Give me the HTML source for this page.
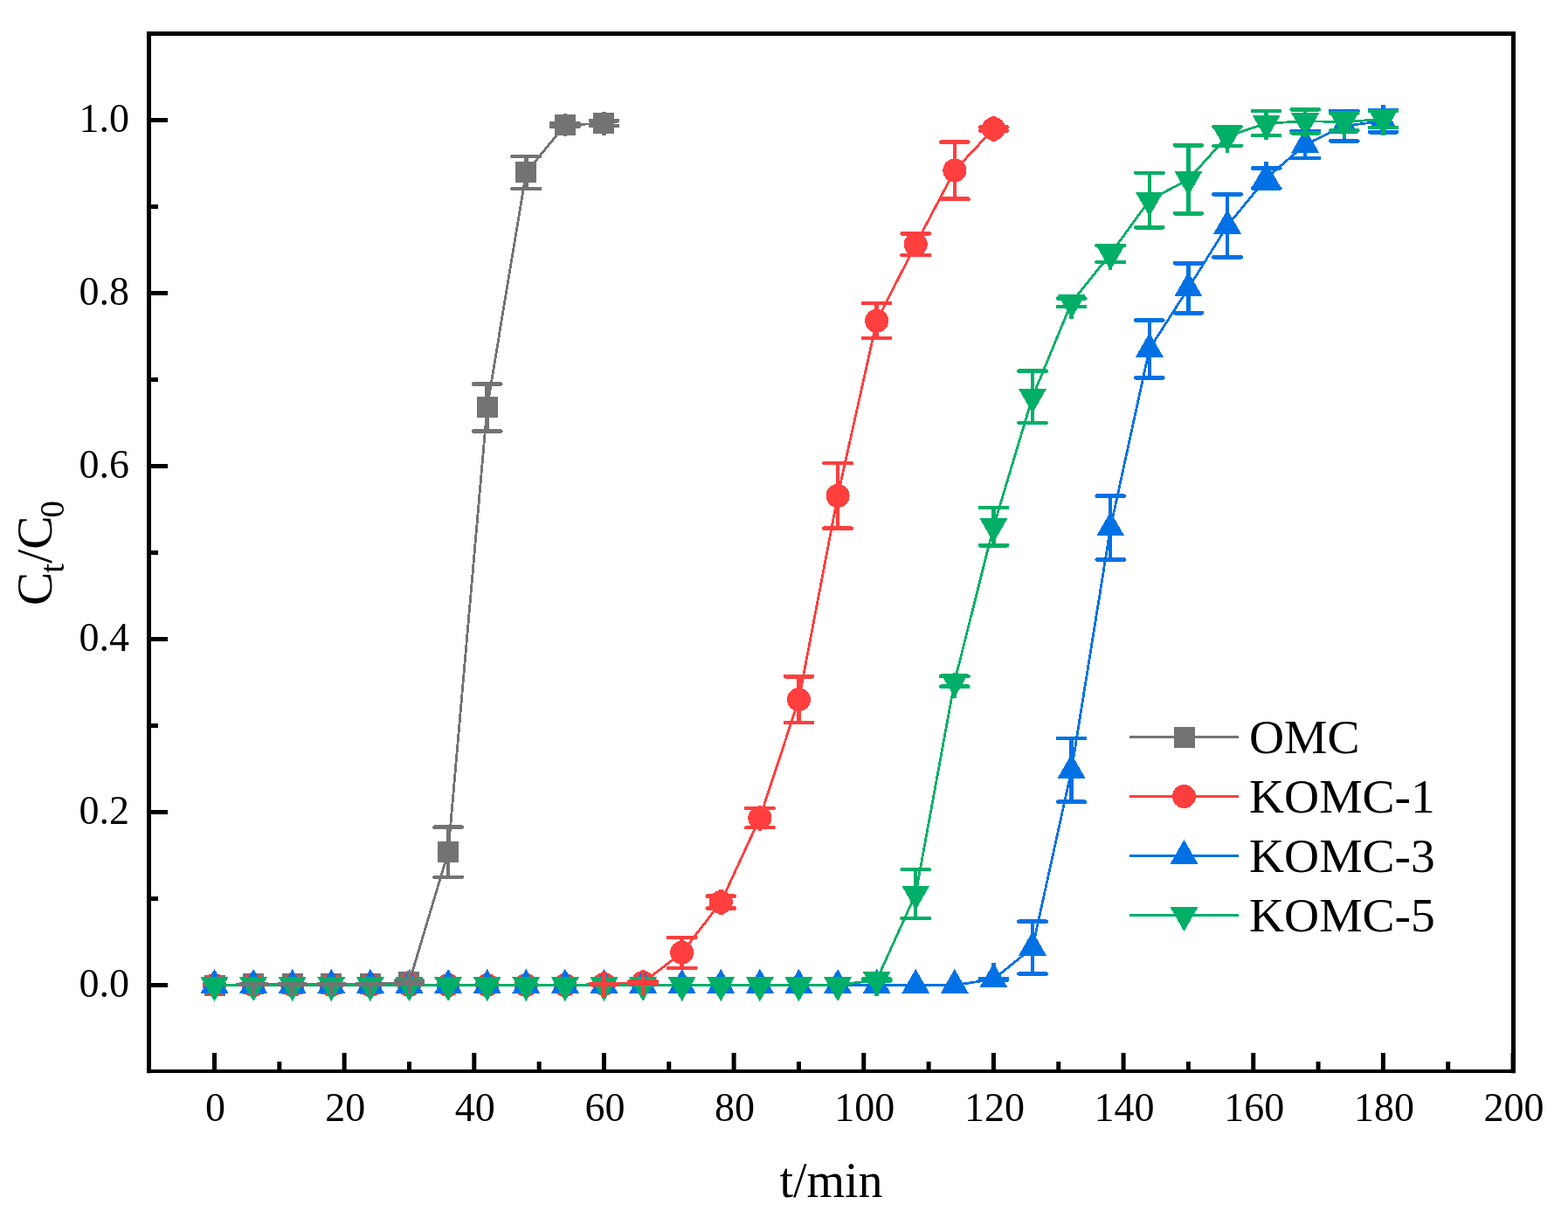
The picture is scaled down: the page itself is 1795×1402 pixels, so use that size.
<!DOCTYPE html>
<html><head><meta charset="utf-8"><title>Breakthrough curves</title>
<style>html,body{margin:0;padding:0;background:#fff;}body{width:1795px;height:1402px;overflow:hidden;}svg{display:block;}</style>
</head><body>
<svg width="1795" height="1402" viewBox="0 0 1795 1402">
<rect width="1795" height="1402" fill="#fff"/>
<g shape-rendering="crispEdges">
<polyline points="245.5,1127.5 290.1,1126.41 334.69,1126.41 379.29,1126.41 423.89,1126.41 468.48,1124.13 513.08,975.24 557.68,466.48 602.27,197.49 646.87,143.04 691.47,141.26" fill="none" stroke="#737373" stroke-width="2.8" stroke-linejoin="round"/>
<g><rect x="233.5" y="1115.5" width="24" height="24" fill="#737373"/><rect x="278.1" y="1114.41" width="24" height="24" fill="#737373"/><rect x="322.69" y="1114.41" width="24" height="24" fill="#737373"/><rect x="367.29" y="1114.41" width="24" height="24" fill="#737373"/><rect x="411.89" y="1114.41" width="24" height="24" fill="#737373"/><rect x="456.48" y="1112.13" width="24" height="24" fill="#737373"/><rect x="501.08" y="963.24" width="24" height="24" fill="#737373"/><rect x="545.68" y="454.48" width="24" height="24" fill="#737373"/><rect x="590.27" y="185.49" width="24" height="24" fill="#737373"/><rect x="634.87" y="131.04" width="24" height="24" fill="#737373"/><rect x="679.47" y="129.26" width="24" height="24" fill="#737373"/></g>
<polyline points="245.5,1127.5 290.1,1127.5 334.69,1127.5 379.29,1127.5 423.89,1127.5 468.48,1127.5 513.08,1127.5 557.68,1127.5 602.27,1127.5 646.87,1127.5 691.47,1126.41 736.06,1124.53 780.66,1090.28 825.26,1032.56 869.86,936.13 914.45,800.6 959.05,567.36 1003.65,367.18 1048.24,279.76 1092.84,195.12 1137.44,147.4" fill="none" stroke="#FF3E3E" stroke-width="2.8" stroke-linejoin="round"/>
<g><circle cx="245.5" cy="1127.5" r="13.5" fill="#FF3E3E"/><circle cx="290.1" cy="1127.5" r="13.5" fill="#FF3E3E"/><circle cx="334.69" cy="1127.5" r="13.5" fill="#FF3E3E"/><circle cx="379.29" cy="1127.5" r="13.5" fill="#FF3E3E"/><circle cx="423.89" cy="1127.5" r="13.5" fill="#FF3E3E"/><circle cx="468.48" cy="1127.5" r="13.5" fill="#FF3E3E"/><circle cx="513.08" cy="1127.5" r="13.5" fill="#FF3E3E"/><circle cx="557.68" cy="1127.5" r="13.5" fill="#FF3E3E"/><circle cx="602.27" cy="1127.5" r="13.5" fill="#FF3E3E"/><circle cx="646.87" cy="1127.5" r="13.5" fill="#FF3E3E"/><circle cx="691.47" cy="1126.41" r="13.5" fill="#FF3E3E"/><circle cx="736.06" cy="1124.53" r="13.5" fill="#FF3E3E"/><circle cx="780.66" cy="1090.28" r="13.5" fill="#FF3E3E"/><circle cx="825.26" cy="1032.56" r="13.5" fill="#FF3E3E"/><circle cx="869.86" cy="936.13" r="13.5" fill="#FF3E3E"/><circle cx="914.45" cy="800.6" r="13.5" fill="#FF3E3E"/><circle cx="959.05" cy="567.36" r="13.5" fill="#FF3E3E"/><circle cx="1003.65" cy="367.18" r="13.5" fill="#FF3E3E"/><circle cx="1048.24" cy="279.76" r="13.5" fill="#FF3E3E"/><circle cx="1092.84" cy="195.12" r="13.5" fill="#FF3E3E"/><circle cx="1137.44" cy="147.4" r="13.5" fill="#FF3E3E"/></g>
<polyline points="245.5,1127.5 290.1,1127.5 334.69,1127.5 379.29,1127.5 423.89,1127.5 468.48,1127.5 513.08,1127.5 557.68,1127.5 602.27,1127.5 646.87,1127.5 691.47,1127.5 736.06,1127.5 780.66,1127.5 825.26,1127.5 869.86,1127.5 914.45,1127.5 959.05,1127.5 1003.65,1127.5 1048.24,1127.5 1092.84,1127.5 1137.44,1120.77 1182.03,1084.53 1226.63,881.39 1271.23,604.09 1315.82,399.45 1360.42,329.76 1405.02,258.38 1449.61,204.03 1494.21,165.52 1538.81,144.13 1583.4,138.59" fill="none" stroke="#0071E5" stroke-width="2.8" stroke-linejoin="round"/>
<g><path d="M245.5 1108.83L261.5 1136.83L229.5 1136.83Z" fill="#0071E5"/><path d="M290.1 1108.83L306.1 1136.83L274.1 1136.83Z" fill="#0071E5"/><path d="M334.69 1108.83L350.69 1136.83L318.69 1136.83Z" fill="#0071E5"/><path d="M379.29 1108.83L395.29 1136.83L363.29 1136.83Z" fill="#0071E5"/><path d="M423.89 1108.83L439.89 1136.83L407.89 1136.83Z" fill="#0071E5"/><path d="M468.48 1108.83L484.48 1136.83L452.48 1136.83Z" fill="#0071E5"/><path d="M513.08 1108.83L529.08 1136.83L497.08 1136.83Z" fill="#0071E5"/><path d="M557.68 1108.83L573.68 1136.83L541.68 1136.83Z" fill="#0071E5"/><path d="M602.27 1108.83L618.27 1136.83L586.27 1136.83Z" fill="#0071E5"/><path d="M646.87 1108.83L662.87 1136.83L630.87 1136.83Z" fill="#0071E5"/><path d="M691.47 1108.83L707.47 1136.83L675.47 1136.83Z" fill="#0071E5"/><path d="M736.06 1108.83L752.06 1136.83L720.06 1136.83Z" fill="#0071E5"/><path d="M780.66 1108.83L796.66 1136.83L764.66 1136.83Z" fill="#0071E5"/><path d="M825.26 1108.83L841.26 1136.83L809.26 1136.83Z" fill="#0071E5"/><path d="M869.86 1108.83L885.86 1136.83L853.86 1136.83Z" fill="#0071E5"/><path d="M914.45 1108.83L930.45 1136.83L898.45 1136.83Z" fill="#0071E5"/><path d="M959.05 1108.83L975.05 1136.83L943.05 1136.83Z" fill="#0071E5"/><path d="M1003.65 1108.83L1019.65 1136.83L987.65 1136.83Z" fill="#0071E5"/><path d="M1048.24 1108.83L1064.24 1136.83L1032.24 1136.83Z" fill="#0071E5"/><path d="M1092.84 1108.83L1108.84 1136.83L1076.84 1136.83Z" fill="#0071E5"/><path d="M1137.44 1102.1L1153.44 1130.1L1121.44 1130.1Z" fill="#0071E5"/><path d="M1182.03 1065.87L1198.03 1093.87L1166.03 1093.87Z" fill="#0071E5"/><path d="M1226.63 862.72L1242.63 890.72L1210.63 890.72Z" fill="#0071E5"/><path d="M1271.23 585.42L1287.23 613.42L1255.23 613.42Z" fill="#0071E5"/><path d="M1315.82 380.79L1331.82 408.79L1299.82 408.79Z" fill="#0071E5"/><path d="M1360.42 311.09L1376.42 339.09L1344.42 339.09Z" fill="#0071E5"/><path d="M1405.02 239.71L1421.02 267.71L1389.02 267.71Z" fill="#0071E5"/><path d="M1449.61 185.36L1465.61 213.36L1433.61 213.36Z" fill="#0071E5"/><path d="M1494.21 146.85L1510.21 174.85L1478.21 174.85Z" fill="#0071E5"/><path d="M1538.81 125.47L1554.81 153.47L1522.81 153.47Z" fill="#0071E5"/><path d="M1583.4 119.92L1599.4 147.92L1567.4 147.92Z" fill="#0071E5"/></g>
<polyline points="245.5,1127.5 290.1,1127.5 334.69,1127.5 379.29,1127.5 423.89,1127.5 468.48,1127.5 513.08,1127.5 557.68,1127.5 602.27,1127.5 646.87,1127.5 691.47,1127.5 736.06,1127.5 780.66,1127.5 825.26,1127.5 869.86,1127.5 914.45,1127.5 959.05,1127.5 1003.65,1121.56 1048.24,1023.06 1092.84,779.91 1137.44,602.7 1182.03,454.3 1226.63,346.19 1271.23,290.65 1315.82,229.08 1360.42,205.32 1405.02,156.01 1449.61,141.16 1494.21,138.79 1538.81,139.48 1583.4,136.51" fill="none" stroke="#00AF67" stroke-width="2.8" stroke-linejoin="round"/>
<g><path d="M245.5 1146.17L261.5 1118.17L229.5 1118.17Z" fill="#00AF67"/><path d="M290.1 1146.17L306.1 1118.17L274.1 1118.17Z" fill="#00AF67"/><path d="M334.69 1146.17L350.69 1118.17L318.69 1118.17Z" fill="#00AF67"/><path d="M379.29 1146.17L395.29 1118.17L363.29 1118.17Z" fill="#00AF67"/><path d="M423.89 1146.17L439.89 1118.17L407.89 1118.17Z" fill="#00AF67"/><path d="M468.48 1146.17L484.48 1118.17L452.48 1118.17Z" fill="#00AF67"/><path d="M513.08 1146.17L529.08 1118.17L497.08 1118.17Z" fill="#00AF67"/><path d="M557.68 1146.17L573.68 1118.17L541.68 1118.17Z" fill="#00AF67"/><path d="M602.27 1146.17L618.27 1118.17L586.27 1118.17Z" fill="#00AF67"/><path d="M646.87 1146.17L662.87 1118.17L630.87 1118.17Z" fill="#00AF67"/><path d="M691.47 1146.17L707.47 1118.17L675.47 1118.17Z" fill="#00AF67"/><path d="M736.06 1146.17L752.06 1118.17L720.06 1118.17Z" fill="#00AF67"/><path d="M780.66 1146.17L796.66 1118.17L764.66 1118.17Z" fill="#00AF67"/><path d="M825.26 1146.17L841.26 1118.17L809.26 1118.17Z" fill="#00AF67"/><path d="M869.86 1146.17L885.86 1118.17L853.86 1118.17Z" fill="#00AF67"/><path d="M914.45 1146.17L930.45 1118.17L898.45 1118.17Z" fill="#00AF67"/><path d="M959.05 1146.17L975.05 1118.17L943.05 1118.17Z" fill="#00AF67"/><path d="M1003.65 1140.23L1019.65 1112.23L987.65 1112.23Z" fill="#00AF67"/><path d="M1048.24 1041.72L1064.24 1013.72L1032.24 1013.72Z" fill="#00AF67"/><path d="M1092.84 798.58L1108.84 770.58L1076.84 770.58Z" fill="#00AF67"/><path d="M1137.44 621.37L1153.44 593.37L1121.44 593.37Z" fill="#00AF67"/><path d="M1182.03 472.97L1198.03 444.97L1166.03 444.97Z" fill="#00AF67"/><path d="M1226.63 364.86L1242.63 336.86L1210.63 336.86Z" fill="#00AF67"/><path d="M1271.23 309.32L1287.23 281.32L1255.23 281.32Z" fill="#00AF67"/><path d="M1315.82 247.74L1331.82 219.74L1299.82 219.74Z" fill="#00AF67"/><path d="M1360.42 223.98L1376.42 195.98L1344.42 195.98Z" fill="#00AF67"/><path d="M1405.02 174.68L1421.02 146.68L1389.02 146.68Z" fill="#00AF67"/><path d="M1449.61 159.83L1465.61 131.83L1433.61 131.83Z" fill="#00AF67"/><path d="M1494.21 157.45L1510.21 129.45L1478.21 129.45Z" fill="#00AF67"/><path d="M1538.81 158.15L1554.81 130.15L1522.81 130.15Z" fill="#00AF67"/><path d="M1583.4 155.18L1599.4 127.18L1567.4 127.18Z" fill="#00AF67"/></g>
<path d="M290.1 1126.41V1139.81M334.69 1126.41V1139.81M379.29 1126.41V1139.81M423.89 1126.41V1139.81M468.48 1110.73V1137.53M513.08 946.73V1003.75M557.68 439.45V493.5M602.27 178.98V216.01M646.87 129.64V156.44M691.47 127.86V154.66" fill="none" stroke="#737373" stroke-width="4.5"/>
<path d="M274.4 1126.51H305.8M318.99 1126.51H350.39M363.59 1126.51H394.99M408.19 1126.51H439.59M452.78 1122.65H484.18M452.78 1125.62H484.18M497.38 946.73H528.78M497.38 1003.75H528.78M541.98 439.45H573.38M541.98 493.5H573.38M586.57 178.98H617.97M586.57 216.01H617.97M631.17 141.06H662.57M631.17 145.02H662.57M675.77 138.29H707.17M675.77 144.23H707.17" fill="none" stroke="#737373" stroke-width="4.5" stroke-linecap="round"/>
<path d="M691.47 1111.91V1140.91M736.06 1110.03V1139.03M780.66 1072.75V1107.8M825.26 1018.06V1047.06M869.86 921.63V950.63M914.45 774.27V826.94M959.05 530.04V604.68M1003.65 347.18V387.18M1048.24 265.26V294.26M1092.84 162.55V227.69M1137.44 132.9V161.9" fill="none" stroke="#FF3E3E" stroke-width="4.5"/>
<path d="M675.77 1126.21H707.17M675.77 1126.61H707.17M720.36 1123.44H751.76M720.36 1125.62H751.76M764.96 1072.75H796.36M764.96 1107.8H796.36M809.56 1025.63H840.96M809.56 1039.49H840.96M854.16 925.05H885.56M854.16 947.22H885.56M898.75 774.27H930.15M898.75 826.94H930.15M943.35 530.04H974.75M943.35 604.68H974.75M987.95 347.18H1019.35M987.95 387.18H1019.35M1032.54 267.39H1063.94M1032.54 292.14H1063.94M1077.14 162.55H1108.54M1077.14 227.69H1108.54M1121.74 145.42H1153.14M1121.74 149.38H1153.14" fill="none" stroke="#FF3E3E" stroke-width="4.5" stroke-linecap="round"/>
<path d="M1137.44 1102.17V1130.37M1182.03 1054.54V1114.53M1226.63 845.05V917.72M1271.23 567.66V640.52M1315.82 366.49V432.42M1360.42 301.25V358.27M1405.02 222.44V294.32M1449.61 185.43V215.51M1494.21 146.92V181.16M1538.81 125.53V161.46M1583.4 119.99V151.26" fill="none" stroke="#0071E5" stroke-width="4.5"/>
<path d="M1121.74 1119.98H1153.14M1121.74 1121.56H1153.14M1166.33 1054.54H1197.73M1166.33 1114.53H1197.73M1210.93 845.05H1242.33M1210.93 917.72H1242.33M1255.53 567.66H1286.93M1255.53 640.52H1286.93M1300.12 366.49H1331.52M1300.12 432.42H1331.52M1344.72 301.25H1376.12M1344.72 358.27H1376.12M1389.32 222.44H1420.72M1389.32 294.32H1420.72M1433.91 192.54H1465.31M1433.91 215.51H1465.31M1478.51 149.87H1509.91M1478.51 181.16H1509.91M1523.11 126.81H1554.51M1523.11 161.46H1554.51M1567.7 125.92H1599.1M1567.7 151.26H1599.1" fill="none" stroke="#0071E5" stroke-width="4.5" stroke-linecap="round"/>
<path d="M1003.65 1111.96V1140.16M1048.24 995.24V1050.87M1092.84 770.31V798.51M1137.44 581.12V624.28M1182.03 424.6V484M1226.63 336.59V364.79M1271.23 281.05V309.25M1315.82 197.79V260.36M1360.42 166.31V244.32M1405.02 145.12V174.61M1449.61 127.11V159.76M1494.21 125.32V157.39M1538.81 129.58V158.08M1583.4 126.91V155.11" fill="none" stroke="#00AF67" stroke-width="4.5"/>
<path d="M987.95 1120.57H1019.35M987.95 1122.55H1019.35M1032.54 995.24H1063.94M1032.54 1050.87H1063.94M1077.14 774.17H1108.54M1077.14 785.65H1108.54M1121.74 581.12H1153.14M1121.74 624.28H1153.14M1166.33 424.6H1197.73M1166.33 484H1197.73M1210.93 341.54H1242.33M1210.93 350.85H1242.33M1255.53 281.15H1286.93M1255.53 300.16H1286.93M1300.12 197.79H1331.52M1300.12 260.36H1331.52M1344.72 166.31H1376.12M1344.72 244.32H1376.12M1389.32 145.12H1420.72M1389.32 166.9H1420.72M1433.91 127.11H1465.31M1433.91 155.22H1465.31M1478.51 125.32H1509.91M1478.51 152.25H1509.91M1523.11 129.58H1554.51M1523.11 149.38H1554.51M1567.7 127.11H1599.1M1567.7 145.92H1599.1" fill="none" stroke="#00AF67" stroke-width="4.5" stroke-linecap="round"/>
</g>
<path d="M170.5 1228.2V38.5H1732.5V1228.2" fill="none" stroke="#000" stroke-width="5"/>
<path d="M168 1226H1735" fill="none" stroke="#000" stroke-width="4"/>
<path d="M245.5 1226V1205M319.83 1226V1215M394.16 1226V1205M468.48 1226V1215M542.81 1226V1205M617.14 1226V1215M691.47 1226V1205M765.8 1226V1215M840.12 1226V1205M914.45 1226V1215M988.78 1226V1205M1063.11 1226V1215M1137.44 1226V1205M1211.76 1226V1215M1286.09 1226V1205M1360.42 1226V1215M1434.75 1226V1205M1509.08 1226V1215M1583.4 1226V1205M1657.73 1226V1215M1732.06 1226V1205M170.5 1127.5H192M170.5 1028.5H181M170.5 929.5H192M170.5 830.5H181M170.5 731.5H192M170.5 632.5H181M170.5 533.5H192M170.5 434.5H181M170.5 335.5H192M170.5 236.5H181M170.5 137.5H192" stroke="#000" stroke-width="5" fill="none"/>
<g font-family="&quot;Liberation Serif&quot;, &quot;Times New Roman&quot;, serif" font-size="46" fill="#000">
<text x="246.5" y="1283" text-anchor="middle">0</text>
<text x="395.16" y="1283" text-anchor="middle">20</text>
<text x="543.81" y="1283" text-anchor="middle">40</text>
<text x="692.47" y="1283" text-anchor="middle">60</text>
<text x="841.12" y="1283" text-anchor="middle">80</text>
<text x="989.78" y="1283" text-anchor="middle">100</text>
<text x="1138.44" y="1283" text-anchor="middle">120</text>
<text x="1287.09" y="1283" text-anchor="middle">140</text>
<text x="1435.75" y="1283" text-anchor="middle">160</text>
<text x="1584.4" y="1283" text-anchor="middle">180</text>
<text x="1733.06" y="1283" text-anchor="middle">200</text>
<text x="148" y="1140.8" text-anchor="end">0.0</text>
<text x="148" y="942.8" text-anchor="end">0.2</text>
<text x="148" y="744.8" text-anchor="end">0.4</text>
<text x="148" y="546.8" text-anchor="end">0.6</text>
<text x="148" y="348.8" text-anchor="end">0.8</text>
<text x="148" y="150.8" text-anchor="end">1.0</text>
</g>
<text x="951.5" y="1370" text-anchor="middle" font-family="&quot;Liberation Serif&quot;, &quot;Times New Roman&quot;, serif" font-size="56">t/min</text>
<text transform="translate(59 693) rotate(-90)" font-family="&quot;Liberation Serif&quot;, &quot;Times New Roman&quot;, serif" font-size="57.5">C<tspan font-size="39" dy="14" dx="-1">t</tspan><tspan dy="-14">/C</tspan><tspan font-size="39" dy="14" dx="-2">0</tspan></text>
<g shape-rendering="crispEdges"><path d="M1293 843.5H1418" stroke="#737373" stroke-width="3"/>
<rect x="1343.5" y="831.5" width="24" height="24" fill="#737373"/></g>
<text x="1430" y="862" font-family="&quot;Liberation Serif&quot;, &quot;Times New Roman&quot;, serif" font-size="55.5">OMC</text>
<g shape-rendering="crispEdges"><path d="M1293 911.5H1418" stroke="#FF3E3E" stroke-width="3"/>
<circle cx="1355.5" cy="911.5" r="13.5" fill="#FF3E3E"/></g>
<text x="1430" y="930" font-family="&quot;Liberation Serif&quot;, &quot;Times New Roman&quot;, serif" font-size="55.5">KOMC-1</text>
<g shape-rendering="crispEdges"><path d="M1293 979.5H1418" stroke="#0071E5" stroke-width="3"/>
<path d="M1355.5 960.83L1371.5 988.83L1339.5 988.83Z" fill="#0071E5"/></g>
<text x="1430" y="998" font-family="&quot;Liberation Serif&quot;, &quot;Times New Roman&quot;, serif" font-size="55.5">KOMC-3</text>
<g shape-rendering="crispEdges"><path d="M1293 1047.5H1418" stroke="#00AF67" stroke-width="3"/>
<path d="M1355.5 1066.17L1371.5 1038.17L1339.5 1038.17Z" fill="#00AF67"/></g>
<text x="1430" y="1066" font-family="&quot;Liberation Serif&quot;, &quot;Times New Roman&quot;, serif" font-size="55.5">KOMC-5</text>
</svg>
</body></html>
